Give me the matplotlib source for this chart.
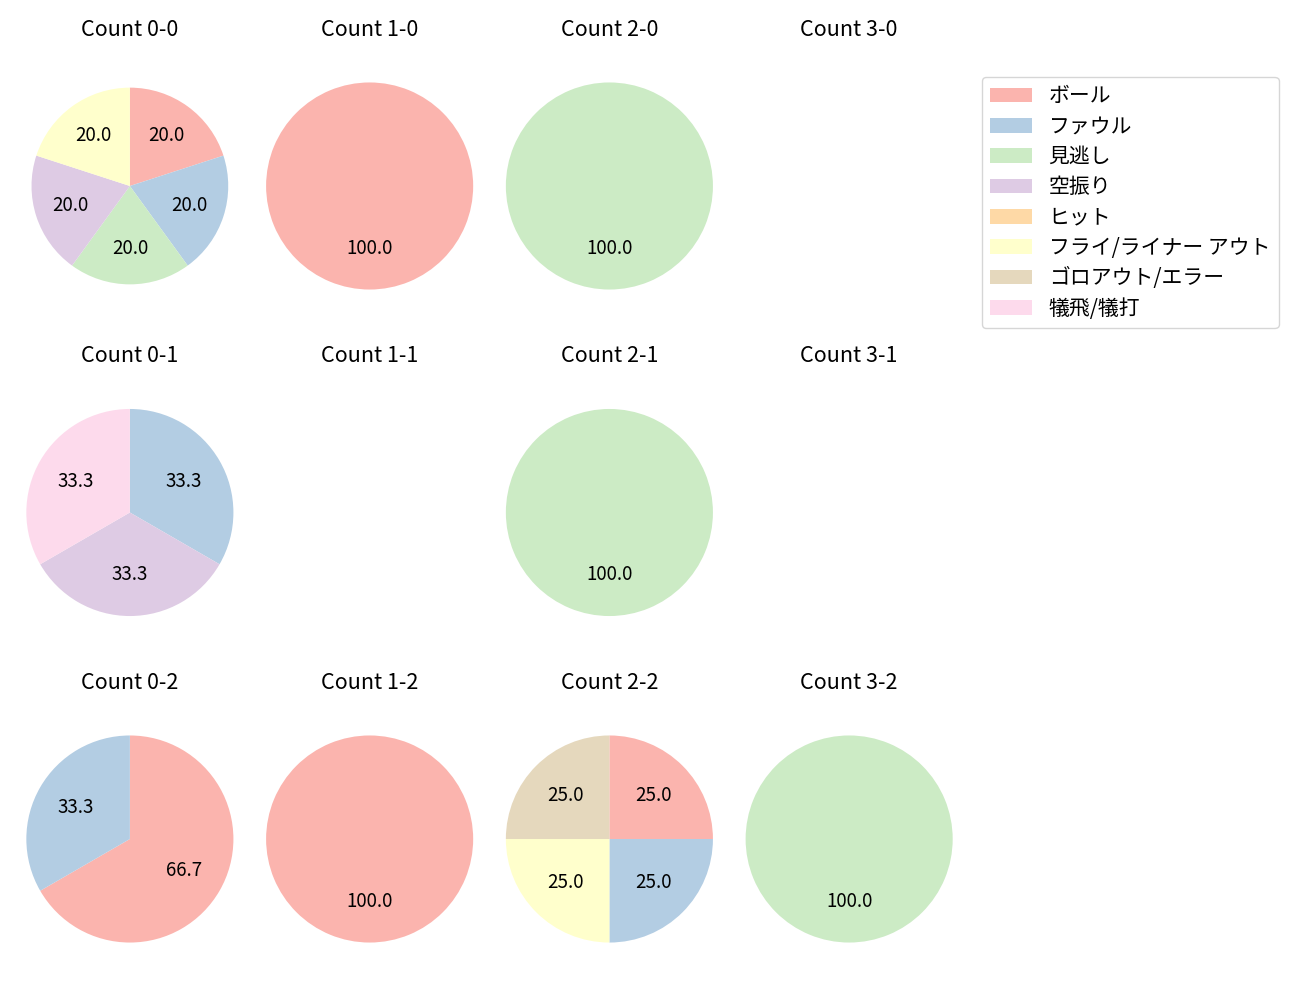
import matplotlib
matplotlib.use("Agg")
import matplotlib.pyplot as plt
from matplotlib.patches import Patch
import numpy as np

plt.rcParams['font.family'] = ['Noto Sans CJK JP', 'DejaVu Sans']

# カテゴリと色
categories = ['ボール', 'ファウル', '見逃し', '空振り', 'ヒット',
              'フライ/ライナー アウト', 'ゴロアウト/エラー', '犠飛/犠打']
colors = plt.cm.Pastel1(np.arange(len(categories)))

# カウント別の件数 (balls-strikes)
count_0_0 = [1, 1, 1, 1, 0, 1, 0, 0]
count_1_0 = [1, 0, 0, 0, 0, 0, 0, 0]
count_2_0 = [0, 0, 1, 0, 0, 0, 0, 0]
count_3_0 = [0, 0, 0, 0, 0, 0, 0, 0]
count_0_1 = [0, 1, 0, 1, 0, 0, 0, 1]
count_1_1 = [0, 0, 0, 0, 0, 0, 0, 0]
count_2_1 = [0, 0, 1, 0, 0, 0, 0, 0]
count_3_1 = [0, 0, 0, 0, 0, 0, 0, 0]
count_0_2 = [2, 1, 0, 0, 0, 0, 0, 0]
count_1_2 = [1, 0, 0, 0, 0, 0, 0, 0]
count_2_2 = [1, 1, 0, 0, 0, 1, 1, 0]
count_3_2 = [0, 0, 1, 0, 0, 0, 0, 0]

grid = [
    [count_0_0, count_1_0, count_2_0, count_3_0],
    [count_0_1, count_1_1, count_2_1, count_3_1],
    [count_0_2, count_1_2, count_2_2, count_3_2],
]

fig, axes = plt.subplots(3, 4, figsize=(13, 10), dpi=100)
fig.subplots_adjust(left=0.0123, right=0.7408, top=0.953, bottom=0.022,
                    wspace=0.0526, hspace=0.1745)

for strikes in range(3):
    for balls in range(4):
        ax = axes[strikes, balls]
        vals = np.array(grid[strikes][balls])
        ax.set_title(f'Count {balls}-{strikes}', fontsize=15.5, pad=8)
        if vals.sum() == 0:
            ax.axis('off')
            continue
        idx = np.nonzero(vals)[0]
        # 0-0 の円は元の図で少し小さい
        r = 0.95 if (balls, strikes) == (0, 0) else 1.0
        ax.pie(vals[idx], colors=colors[idx], autopct='%.1f',
               startangle=90, counterclock=False, radius=r,
               pctdistance=0.6 / r if r < 1 else 0.6,
               textprops={'fontsize': 13.5})
        ax.axis('equal')
        if r < 1:
            ax.set_xlim(-1.1, 1.1)
            ax.set_ylim(-1.1, 1.1)

handles = [Patch(facecolor=c) for c in colors]
fig.legend(handles, categories, loc='upper left',
           bbox_to_anchor=(982 / 1300, 1 - 77 / 1000), borderaxespad=0,
           fontsize=15, handlelength=2.0, labelspacing=0.40,
           handletextpad=0.8)

fig.savefig('out.png')
